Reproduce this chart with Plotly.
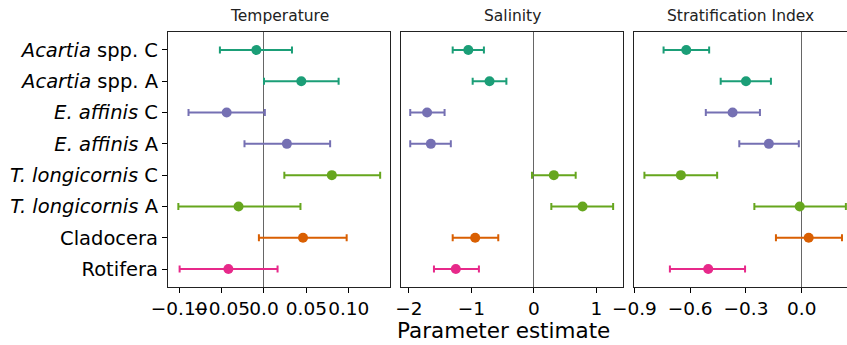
import plotly.graph_objects as go

categories = ["Acartia spp. C", "Acartia spp. A", "E. affinis C", "E. affinis A",
              "T. longicornis C", "T. longicornis A", "Cladocera", "Rotifera"]
category_labels = ["<i>Acartia</i> spp. C", "<i>Acartia</i> spp. A", "<i>E. affinis</i> C",
                   "<i>E. affinis</i> A", "<i>T. longicornis</i> C", "<i>T. longicornis</i> A",
                   "Cladocera", "Rotifera"]
category_colors = ["#1b9e77", "#1b9e77", "#7570b3", "#7570b3",
                   "#66a61e", "#66a61e", "#d95f02", "#e7298a"]

panel_titles = ["Temperature", "Salinity", "Stratification Index"]

temp_est = [-0.009, 0.044, -0.044, 0.027, 0.080, -0.030, 0.046, -0.042]
temp_lo = [-0.052, 0.000, -0.089, -0.023, 0.024, -0.101, -0.006, -0.0995]
temp_hi = [0.033, 0.088, 0.001, 0.078, 0.137, 0.043, 0.0975, 0.016]

sal_est = [-1.05, -0.71, -1.71, -1.65, 0.32, 0.78, -0.94, -1.25]
sal_lo = [-1.30, -0.98, -1.98, -1.98, -0.03, 0.28, -1.30, -1.60]
sal_hi = [-0.80, -0.44, -1.43, -1.33, 0.67, 1.27, -0.57, -0.88]

strat_est = [-0.621, -0.300, -0.372, -0.177, -0.650, -0.011, 0.037, -0.503]
strat_lo = [-0.743, -0.436, -0.516, -0.336, -0.846, -0.255, -0.139, -0.709]
strat_hi = [-0.498, -0.166, -0.225, -0.016, -0.455, 0.237, 0.216, -0.305]

temp_ticks = [-0.10, -0.05, 0.0, 0.05, 0.10]
temp_ticklabels = ["\u22120.10", "\u22120.05", "0.0", "0.05", "0.10"]
sal_ticks = [-2, -1, 0, 1]
sal_ticklabels = ["\u22122", "\u22121", "0", "1"]
strat_ticks = [-0.9, -0.6, -0.3, 0.0]
strat_ticklabels = ["\u22120.9", "\u22120.6", "\u22120.3", "0.0"]

x_label = "Parameter estimate"

W, H = 847, 345
FONT = "DejaVu Sans"

panels = [
    (temp_est, temp_lo, temp_hi, temp_ticks, temp_ticklabels, [-0.1132, 0.1486], (168, 390)),
    (sal_est, sal_lo, sal_hi, sal_ticks, sal_ticklabels, [-2.128, 1.428], (401, 623)),
    (strat_est, strat_lo, strat_hi, strat_ticks, strat_ticklabels, [-0.902, 0.243], (634, 847)),
]

y_top, y_bot = 32, 287
ydom = [1 - y_bot / H, 1 - y_top / H]

fig = go.Figure()
layout = dict(
    width=W, height=H,
    margin=dict(l=0, r=0, t=0, b=0, autoexpand=False),
    paper_bgcolor="white", plot_bgcolor="white",
    showlegend=False,
    font=dict(family=FONT, color="black"),
)

annotations = []
for p, (est, lo, hi, ticks, ticklabels, xr, (x0, x1)) in enumerate(panels):
    sfx = "" if p == 0 else str(p + 1)
    for i, cat in enumerate(categories):
        fig.add_trace(go.Scatter(
            x=[est[i]], y=[cat], mode="markers",
            xaxis="x" + sfx, yaxis="y" + sfx,
            marker=dict(color=category_colors[i], size=10, line=dict(width=0)),
            error_x=dict(type="data", symmetric=False,
                         array=[hi[i] - est[i]], arrayminus=[est[i] - lo[i]],
                         color=category_colors[i], thickness=2, width=3.5),
            cliponaxis=False if p == 2 else True,
            hoverinfo="skip",
        ))
    layout["xaxis" + sfx] = dict(
        domain=[x0 / W, x1 / W], range=xr, anchor="y" + sfx,
        tickvals=ticks, ticktext=ticklabels, ticks="outside", ticklen=5,
        tickwidth=1.2, tickcolor="black", tickangle=0, automargin=False,
        tickfont=dict(size=18.5, family=FONT, color="black"),
        showline=True, linecolor="#222", linewidth=1.2, mirror=True,
        showgrid=False, zeroline=True, zerolinecolor="#666", zerolinewidth=1,
    )
    ycfg = dict(
        domain=ydom, anchor="x" + sfx, type="category",
        categoryorder="array", categoryarray=categories,
        range=[7.575, -0.575], automargin=False,
        showline=True, linecolor="#222", linewidth=1.2,
        mirror=(p != 2),
        showgrid=False, zeroline=False,
    )
    if p == 0:
        ycfg.update(tickvals=categories, ticktext=category_labels, ticks="outside",
                    ticklen=5, tickwidth=1.2, tickcolor="black",
                    tickfont=dict(size=19.5, family=FONT, color="black"))
    else:
        ycfg.update(showticklabels=False, ticks="", matches="y")
    layout["yaxis" + sfx] = ycfg
    annotations.append(dict(
        text=panel_titles[p], x=(x0 + min(x1, x0 + 222)) / 2 / W, y=1 - 16 / H,
        xref="paper", yref="paper", xanchor="center", yanchor="middle",
        showarrow=False, font=dict(size=15.5, family=FONT, color="#222"),
    ))

annotations.append(dict(
    text=x_label, x=503 / W, y=1 - 330 / H, xref="paper", yref="paper",
    xanchor="center", yanchor="middle", showarrow=False,
    font=dict(size=21.5, family=FONT, color="black"),
))
layout["annotations"] = annotations
fig.update_layout(**layout)
fig.write_html("out.html", config={"displayModeBar": False},
               post_script="document.body.style.margin='0';")
